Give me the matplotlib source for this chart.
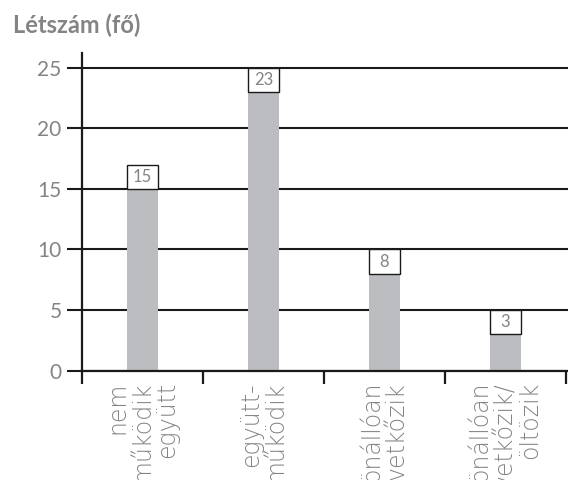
import matplotlib
matplotlib.use("Agg")
import matplotlib.pyplot as plt
from matplotlib.patches import Rectangle

# Data
categories = ["nem\nműködik\negyütt", "együtt-\nműködik", "önállóan\nvetkőzik", "önállóan\nvetkőzik/\nöltözik"]
values = [15, 23, 8, 3]
yticks = [0, 5, 10, 15, 20, 25]

FONT = ["Lato", "DejaVu Sans"]
LABEL_FONT = ["DejaVu Sans"]
GRAY_TEXT = "#848486"
BAR_COLOR = "#bcbdc0"
INK = "#1a1a1a"

fig = plt.figure(figsize=(5.68, 4.80), dpi=100)
ax = fig.add_axes([0.1444, 0.2281, 0.8556, 0.6621])

x = list(range(len(categories)))
bar_w = 0.256
ax.bar(x, values, width=bar_w, color=BAR_COLOR, zorder=2)

# value boxes sitting on top of each bar
box_h = 2.0
for xi, v in zip(x, values):
    ax.add_patch(Rectangle((xi - bar_w / 2, v), bar_w, box_h, facecolor="white",
                           edgecolor=INK, linewidth=1.0, zorder=3))
    ax.text(xi, v + box_h / 2, str(v), ha="center", va="center", fontsize=12,
            color=GRAY_TEXT, family=FONT, zorder=4)

ax.set_ylim(0, 26.24)
ax.set_xlim(-0.5, 3.52)

# horizontal gridlines
ax.set_yticks(yticks)
ax.yaxis.grid(True, color=INK, linewidth=1.5, zorder=1)
ax.set_axisbelow(True)
ax.set_yticklabels([str(t) for t in yticks], family=FONT, fontsize=15,
                   color=GRAY_TEXT)
ax.tick_params(axis="y", length=10.8, width=1.5, color=INK, pad=4)

# category boundaries as x ticks
ax.set_xticks([-0.5, 0.5, 1.5, 2.5, 3.5])
ax.set_xticklabels([])
ax.tick_params(axis="x", which="major", length=9.7, width=1.6, color=INK)

# rotated category labels hanging below the axis
for xi, label in zip(x, categories):
    ax.text(xi, -0.036, label, transform=ax.get_xaxis_transform(), rotation=90,
            ha="center", va="top", multialignment="right", fontsize=17,
            linespacing=1.05, family=LABEL_FONT, fontweight="light",
            color=GRAY_TEXT, clip_on=False)

for side in ["top", "right"]:
    ax.spines[side].set_visible(False)
for side in ["left", "bottom"]:
    ax.spines[side].set_color(INK)
    ax.spines[side].set_linewidth(1.6)
    ax.spines[side].set_zorder(5)

fig.text(0.023, 1 - 33 / 480, "Létszám (fő)", family=FONT, fontsize=17, fontweight="bold",
         color=GRAY_TEXT, ha="left", va="baseline")

fig.savefig("out.png", dpi=100)
